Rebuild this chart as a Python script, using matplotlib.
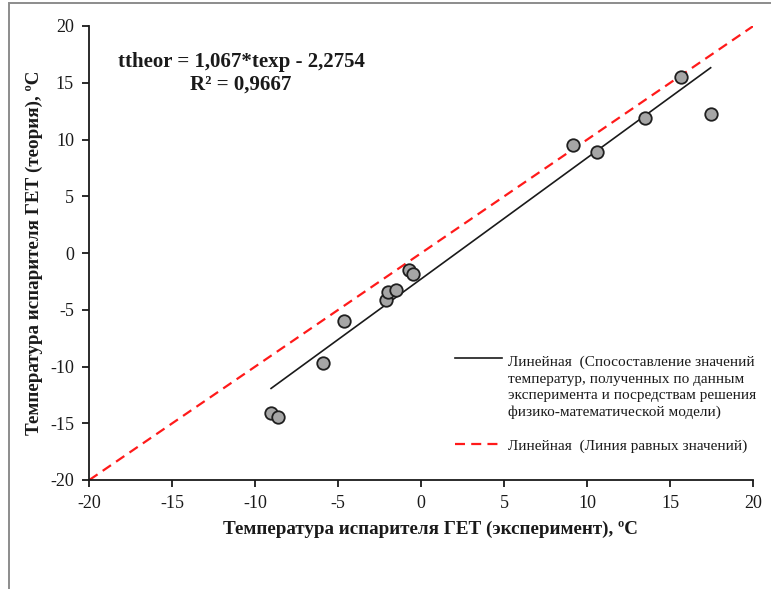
import matplotlib
matplotlib.use("Agg")
import matplotlib.pyplot as plt
import numpy as np
from matplotlib.lines import Line2D
from matplotlib.legend_handler import HandlerLine2D
from matplotlib.patches import Rectangle

# ---- data ----
t_exp = [-9.05, -8.61, -5.94, -4.64, -2.13, -1.98, -1.55, -0.72, -0.48, 9.12, 10.57, 13.49, 15.63, 17.43]
t_theor = [-14.10, -14.48, -9.72, -6.01, -4.10, -3.42, -3.30, -1.54, -1.83, 9.50, 8.94, 11.88, 15.53, 12.23]
fit_slope = 1.067
fit_intercept = -2.2754
equal_line = [-20, 20]
x_ticks = [-20, -15, -10, -5, 0, 5, 10, 15, 20]
y_ticks = [-20, -15, -10, -5, 0, 5, 10, 15, 20]
eq_text = "ttheor = 1,067*texp - 2,2754\nR² = 0,9667"
xlabel = "Температура испарителя ГЕТ (эксперимент), ºС"
ylabel = "Температура испарителя ГЕТ (теория), ºС"
leg_fit = ("Линейная  (Спосоставление значений\nтемператур, полученных по данным\n"
           "эксперимента и посредствам решения\nфизико-математической модели)")
leg_eq = "Линейная  (Линия равных значений)"

plt.rcParams['font.family'] = ['Liberation Serif', 'DejaVu Serif']
plt.rcParams['axes.unicode_minus'] = False

W, H = 771, 589
fig = plt.figure(figsize=(W / 100, H / 100), dpi=100)
ax = fig.add_axes([89.3 / W, 1 - 480 / H, (753.3 - 89.3) / W, (480 - 26) / H])

# frame border of the figure
fig.patches.append(Rectangle((8.5 / W, -0.05), 1.2, 1 - 3 / H + 0.05, transform=fig.transFigure,
                             fill=False, edgecolor='#8c8c8c', linewidth=1.4))

# equal-values line
ax.plot(equal_line, equal_line, color='#ff1a1a', lw=1.6, dashes=[4.5, 2.8], zorder=2)
# trendline
xf = np.array([min(t_exp), max(t_exp)])
ax.plot(xf, fit_slope * xf + fit_intercept, color='#1a1a1a', lw=1.2, zorder=3)
# points
ax.plot(t_exp, t_theor, ls='none', marker='o', ms=9, mfc='#a6a6a6', mec='#1f1f1f',
        mew=1.3, zorder=4)

ax.set_xlim(-20, 20)
ax.set_ylim(-20, 20)
ax.set_xticks(x_ticks)
ax.set_yticks(y_ticks)
for s in ['top', 'right']:
    ax.spines[s].set_visible(False)
for s in ['left', 'bottom']:
    ax.spines[s].set_linewidth(1.3)
    ax.spines[s].set_color('#1a1a1a')
ax.tick_params(axis='both', direction='out', length=5, width=1.3, color='#1a1a1a',
               labelsize=13, labelcolor='#1a1a1a')
ax.tick_params(axis='y', pad=6)
ax.tick_params(axis='x', pad=6)

ax.set_xlabel(xlabel, fontsize=13.7, fontweight='bold', labelpad=6, color='#1a1a1a')
ax.xaxis.label.set_x(0.5 + 9 / 664)
ax.set_ylabel(ylabel, fontsize=13.7, fontweight='bold', labelpad=5, color='#1a1a1a')

fig.text(241 / W, 1 - 73 / H, eq_text, ha='center', va='center', fontsize=15,
         fontweight='bold', linespacing=1.2, color='#1a1a1a')


class TopHandler(HandlerLine2D):
    def __init__(self, offset=0.0, **kw):
        super().__init__(**kw)
        self.offset = offset

    def create_artists(self, legend, orig_handle, xdescent, ydescent, width, height,
                       fontsize, trans):
        arts = super().create_artists(legend, orig_handle, xdescent, ydescent, width,
                                      height, fontsize, trans)
        for a in arts:
            if isinstance(a, Line2D):
                a.set_ydata(np.asarray(a.get_ydata()) + self.offset)
        return arts


LEG_FS = 11
LEG_LS = 1.33
h_fit = Line2D([], [], color='#1a1a1a', lw=1.2)
h_eq = Line2D([], [], color='#ff1a1a', lw=1.6, dashes=[4.5, 2.8])
leg = ax.legend([h_fit, h_eq], [leg_fit, leg_eq], loc='upper left',
                bbox_to_anchor=(455 / W, 1 - 356 / H), bbox_transform=fig.transFigure,
                frameon=False, fontsize=LEG_FS, handlelength=3.1, handletextpad=0.4,
                labelspacing=1.3, borderpad=0, borderaxespad=0,
                handler_map={h_fit: TopHandler(offset=1.5 * LEG_LS * 0.873 * LEG_FS + 2)})
for t in leg.get_texts():
    t.set_color('#1a1a1a')
    t.set_linespacing(LEG_LS)

fig.savefig('out.png', dpi=100)
